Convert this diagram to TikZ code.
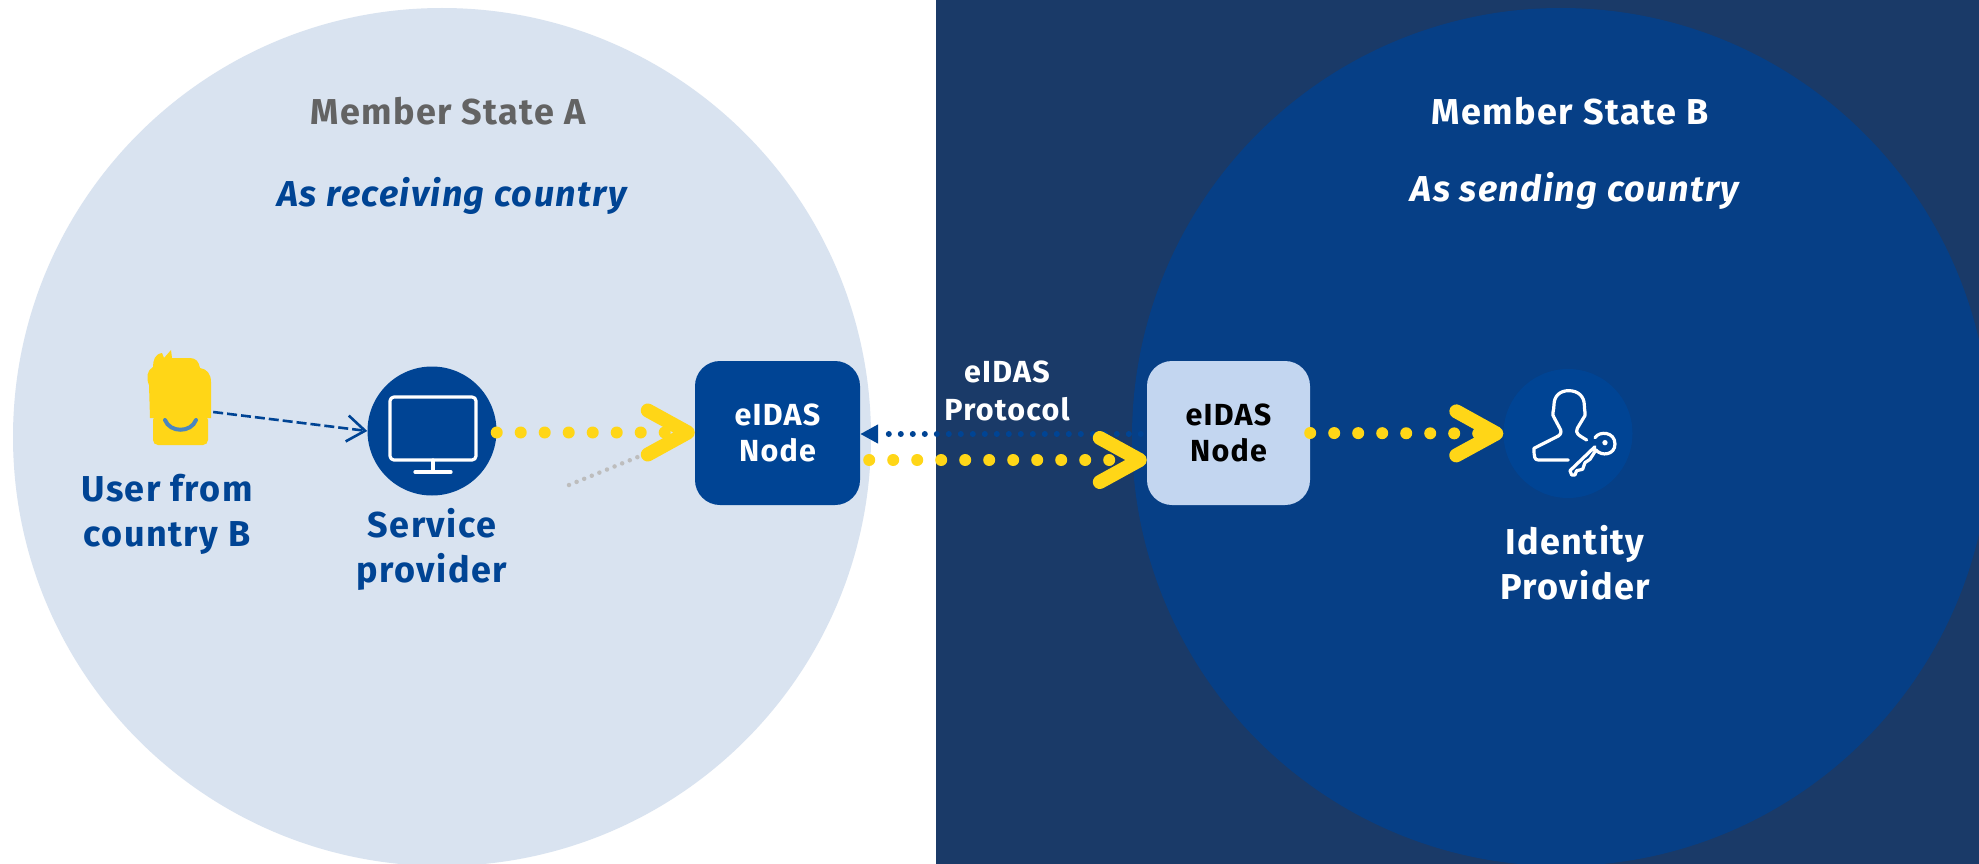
\documentclass[tikz,border=0pt]{standalone}
\usepackage{fontspec}
\setmainfont{Fira Sans}[LetterSpace=4]
\usetikzlibrary{arrows.meta,shapes.geometric}
\definecolor{euBlue}{HTML}{004494}
\definecolor{darkBand}{HTML}{1A3A68}
\definecolor{circB}{HTML}{063F86}
\definecolor{circA}{HTML}{D9E3F0}
\definecolor{nodeLight}{HTML}{C3D6F0}
\definecolor{euYellow}{HTML}{FFD617}
\definecolor{smile}{HTML}{4A86BF}
\definecolor{greyText}{HTML}{636363}
\definecolor{greyDot}{HTML}{BDBDBD}
\tikzset{
  x=1pt,y=-1pt,
  title/.style={font=\fontsize{36}{40}\selectfont\bfseries,align=center},
  subtitle/.style={font=\fontsize{36}{40}\selectfont\bfseries\itshape,align=center},
  biglabel/.style={font=\fontsize{36}{45}\selectfont\bfseries,align=center,text=euBlue},
  nodelabel/.style={font=\fontsize{30.5}{36}\selectfont\bfseries,align=center},
  roundcircle/.style={circle,fill=euBlue,minimum size=129pt,inner sep=0pt},
  eidasbox/.style={rectangle,rounded corners=25pt,minimum height=144pt,inner sep=0pt},
  chev/.style={-{Straight Barb[length=40pt,width=44pt,line width=14pt,round,color=euYellow]}},
  ydots/.style={draw=euYellow,line width=12pt,line cap=round,dash pattern=on 0pt off 24pt,chev},
  bdots/.style={draw=euBlue,line width=6pt,line cap=round,dash pattern=on 0pt off 12pt,dash phase=6pt,-{Triangle[length=18pt,width=18pt,color=euBlue]}},
  gdots/.style={draw=greyDot,line width=4.5pt,line cap=round,dash pattern=on 0pt off 8.2pt},
  iconline/.style={draw=white,line width=3.2pt,line cap=round,line join=round},
}
\begin{document}
\begin{tikzpicture}
\useasboundingbox (0,0) rectangle (1979,864);
\clip (0,0) rectangle (1979,864);
\fill[white] (0,0) rectangle (1979,864);
\fill[darkBand] (936,0) rectangle (1979,864);
\fill[circA] (442,437) circle[radius=429];
\fill[circB] (1561,437) circle[radius=429];

% user
\fill[euYellow,rounded corners=5pt] (153,415) -- (153,445) -- (208,445) -- (208,415) -- cycle;
\fill[euYellow] (150,418) -- (149,385) .. controls (146,378) and (147,370) .. (153,367)
  .. controls (153,360) and (155,354) .. (162,353) -- (164,358) -- (171,350) -- (172,358)
  -- (190,358) .. controls (196,358) and (199,362) .. (200,368)
  .. controls (207,369) and (211,374) .. (211,382) -- (211,418) -- cycle;
\draw[smile,line width=4pt,line cap=round] (165,420) .. controls (170,433) and (191,433) .. (196,420);
\node[minimum width=62pt,minimum height=96pt,inner sep=0pt] (user) at (180,398) {};

% service provider
\node[roundcircle] (sp) at (432,431) {};
\draw[iconline,rounded corners=4pt] (390,397) rectangle (476,460);
\draw[iconline] (433,460) -- (433,472) (415,472) -- (451,472);

% eIDAS nodes
\node[eidasbox,fill=euBlue,minimum width=165pt,text=white,nodelabel] (nodeA) at (777.5,433) {eIDAS\\Node};
\node[eidasbox,fill=nodeLight,minimum width=163pt,text=black,nodelabel] (nodeB) at (1228.5,433) {eIDAS\\Node};

% identity provider
\node[roundcircle] (idp) at (1568,433.5) {};
\begin{scope}[shift={(1280,340)},x=0.3333pt,y=-0.3333pt]
\draw[iconline] (865,360) -- (775,360) .. controls (764,360) and (762,352) .. (762,325)
  -- (835,288) .. controls (845,282) and (845,272) .. (838,262)
  -- (822,232) .. controls (814,222) and (822,215) .. (822,195)
  .. controls (822,168) and (840,152) .. (866,152) .. controls (895,152) and (913,170) .. (913,195)
  .. controls (913,215) and (920,225) .. (910,235) -- (892,265) .. controls (885,280) and (895,285) .. (920,300);
\draw[iconline] (945,293) .. controls (958,272) and (1005,275) .. (1005,312)
  .. controls (1005,345) and (965,350) .. (948,330)
  -- (930,358) -- (915,368) -- (908,388) -- (890,392) -- (885,405) -- (875,405) -- (870,392) -- (945,320);
\fill[white] (975,308) circle[radius=8];
\end{scope}

% connectors
\draw[draw=euBlue,line width=2.6pt,dash pattern=on 10pt off 4pt,-{Straight Barb[length=18pt,width=26pt,line width=2.6pt,color=euBlue]}] ([shift={(2,14)}]user.east) -- (sp.west);
\draw[ydots] ([yshift=-1.5pt]sp.east) -- ([yshift=-1.5pt]sp.east -| nodeA.west);
\draw[gdots] (569,485) -- ([shift={(-57,24)}]nodeA.west);
\draw[bdots] ([yshift=-1pt]nodeB.west) -- ([yshift=-1pt]nodeA.east);
\draw[ydots] ([shift={(9,27)}]nodeA.east) -- ([yshift=-27pt]nodeB.west);
\draw[ydots] ([yshift=0pt]nodeB.east) -- (idp.west);

% labels
\node[title,text=greyText] (titleA) at (448,111) {Member State A};
\node[subtitle,text=euBlue] (subA) at (452,196) {As receiving country};
\node[title,text=white] (titleB) at (1570,111) {Member State B};
\node[subtitle,text=white] (subB) at (1575,191) {As sending country};
\node[biglabel] (userlab) at (167,514) {User from\\country B};
\node[biglabel] (splab) at (432,549) {Service\\provider};
\node[nodelabel,text=white,font=\fontsize{30.5}{38}\selectfont\bfseries] (proto) at (1007,391) {eIDAS\\Protocol};
\node[biglabel,text=white] (idplab) at (1575,563) {Identity\\Provider};
\end{tikzpicture}
\end{document}
